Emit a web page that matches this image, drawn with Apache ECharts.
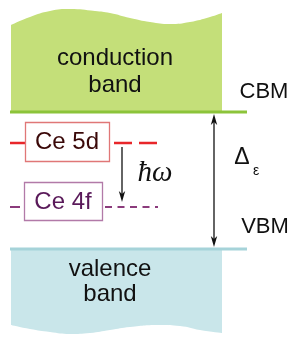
<!DOCTYPE html>
<html><head><meta charset="utf-8">
<script src="https://cdn.jsdelivr.net/npm/echarts@6/dist/echarts.min.js"></script>
<style>html,body{margin:0;padding:0;background:#fff}#c{width:294px;height:337px}</style>
</head><body><div id="c"></div><script>
// Diagram geometry (diagram units = axis values)
const cbTop = [[11,25],[30,17],[50,11],[70,9],[95,11],[110,13],[130,18],[150,22],[170,24],[190,22],[210,17],[222,13]];
const cbEdge = 112;
const vbBottom = [[11,325],[30,329],[50,332],[70,334],[90,333],[110,330],[130,327],[160,325],[180,326],[200,330],[222,333]];
const vbEdge = 249;
const edgeSpan = [10, 247];
const level5d = 143;
const level4f = 207;
const boxes = [[25,122,109,161],[24,182,102,220]];
const arrows = [[122,147,202,0,1],[214,114,247,1,1]];
const textItems = ['conduction','band','valence','band','CBM','VBM','Ce 5d','Ce 4f','\u0127\u03c9','\u0394','\u03b5'];
const textX = [115,115,110,110,264,265,67,63,155,242,256];
const textY = [58,85,269,294,92,227,142,202,173,158,171];

const textStyles = [
  {font:'24px "Liberation Sans"', fill:'#111'},
  {font:'24px "Liberation Sans"', fill:'#111'},
  {font:'24px "Liberation Sans"', fill:'#111'},
  {font:'24px "Liberation Sans"', fill:'#111'},
  {font:'22px "Liberation Sans"', fill:'#111'},
  {font:'22px "Liberation Sans"', fill:'#111'},
  {font:'24px "Liberation Sans"', fill:'#3a0808'},
  {font:'24px "Liberation Sans"', fill:'#5a1a5a'},
  {font:'italic 29px "Liberation Serif"', fill:'#111'},
  {font:'23px "Liberation Sans"', fill:'#111'},
  {font:'14px "Liberation Sans"', fill:'#111'}
];
const boxColors = ['#e07777','#b27aa8'];

const chart = echarts.init(document.getElementById('c'), null, {renderer:'canvas'});
chart.setOption({
  animation:false,
  grid:{left:0,right:0,top:0,bottom:0},
  xAxis:{type:'value',min:0,max:294,show:false},
  yAxis:{type:'value',min:0,max:337,inverse:true,show:false},
  series:[
    {type:'line', data:cbTop, smooth:0.5, symbol:'none', lineStyle:{width:0},
     areaStyle:{color:'#c4df79',opacity:1, origin:cbEdge}, z:1},
    {type:'line', data:vbBottom, smooth:0.5, symbol:'none', lineStyle:{width:0},
     areaStyle:{color:'#c9e6ea',opacity:1, origin:vbEdge}, z:1},
    {type:'line', data:[[edgeSpan[0],cbEdge],[edgeSpan[1],cbEdge]], symbol:'none', lineStyle:{color:'#8cc43a',width:3}, z:2},
    {type:'line', data:[[edgeSpan[0],vbEdge],[edgeSpan[1],vbEdge]], symbol:'none', lineStyle:{color:'#a6d3d9',width:3}, z:2},
    {type:'line', data:[[10,level5d],[25,level5d]], symbol:'none', lineStyle:{color:'#e8262a',width:2.5}, z:3},
    {type:'line', data:[[114,level5d],[157,level5d]], symbol:'none', lineStyle:{color:'#e8262a',width:2.5,type:[18,7]}, z:3},
    {type:'line', data:[[10,level4f],[20,level4f]], symbol:'none', lineStyle:{color:'#8b3b7c',width:2}, z:3},
    {type:'line', data:[[105,level4f],[158,level4f]], symbol:'none', lineStyle:{color:'#8b3b7c',width:2,type:[7,5.5]}, z:3},
    {type:'custom', data:boxes, z:4, renderItem:function(params, api){
      const a = api.coord([api.value(0), api.value(1)]);
      const b = api.coord([api.value(2), api.value(3)]);
      return {type:'rect', shape:{x:a[0]+0.5,y:a[1]+0.5,width:b[0]-a[0],height:b[1]-a[1]},
        style:{fill:'#fff', stroke:boxColors[params.dataIndex], lineWidth:1.3}};
    }},
    {type:'custom', data:arrows, z:5, renderItem:function(params, api){
      const x = api.value(0);
      const p1 = api.coord([x, api.value(1)]);
      const p2 = api.coord([x, api.value(2)]);
      const L = 11, W = 3.2;
      const children = [{type:'line', shape:{x1:p1[0],y1:p1[1]+(api.value(3)?6:0),x2:p2[0],y2:p2[1]-(api.value(4)?6:0)}, style:{stroke:'#111',lineWidth:1.3}}];
      if (api.value(3)) children.push({type:'polygon', shape:{points:[[p1[0],p1[1]],[p1[0]-W,p1[1]+L],[p1[0],p1[1]+L-3],[p1[0]+W,p1[1]+L]]}, style:{fill:'#111'}});
      if (api.value(4)) children.push({type:'polygon', shape:{points:[[p2[0],p2[1]],[p2[0]-W,p2[1]-L],[p2[0],p2[1]-L+3],[p2[0]+W,p2[1]-L]]}, style:{fill:'#111'}});
      return {type:'group', children:children};
    }},
    {type:'custom', data:textItems.map((t,i)=>[textX[i],textY[i],t]), z:6, renderItem:function(params, api){
      const p = api.coord([api.value(0), api.value(1)]);
      const s = textStyles[params.dataIndex];
      return {type:'text', x:p[0], y:p[1], style:{text:textItems[params.dataIndex], font:s.font, fill:s.fill, align:'center', verticalAlign:'middle'}};
    }}
  ]
});
</script></body></html>
